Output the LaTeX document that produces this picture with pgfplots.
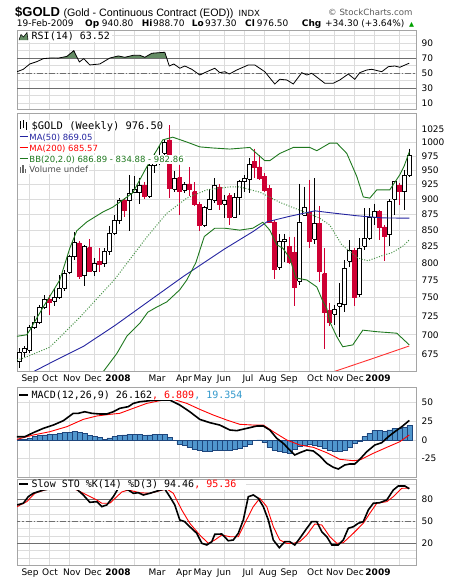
\documentclass[border=0pt]{standalone}
\usepackage{pgfplots}
\usepackage{pgfplotstable}
\pgfplotsset{compat=1.18}
\usepackage{fontspec}
\setmainfont{DejaVu Sans}
\setmonofont{DejaVu Sans Mono}
\newfontfamily\hdrfont{Liberation Sans}
\newcommand\fs[1]{\fontsize{#1}{#1}\selectfont}

\definecolor{gridc}{RGB}{220,220,220}
\definecolor{framec}{RGB}{165,165,165}
\definecolor{refc}{RGB}{110,110,110}
\definecolor{candlered}{RGB}{206,0,52}
\definecolor{bbc}{RGB}{30,120,30}
\definecolor{bbmidc}{RGB}{70,145,70}
\definecolor{ma50c}{RGB}{35,35,160}
\definecolor{ma200c}{RGB}{255,50,50}
\definecolor{histfill}{RGB}{80,150,205}
\definecolor{histedge}{RGB}{30,70,125}
\definecolor{macdblue}{RGB}{51,153,204}
\definecolor{rsifill}{RGB}{100,140,100}

% weekly candles, i = week index (0 = 24-Aug-2007, 78 = 20-Feb-2009)
\pgfplotstableread{
i O H L C
0 666 683 658 678
1 678 685 672 682
2 680 713 677 709
3 709 725 708 716
4 716 740 714 736
5 736 753 734 747
6 748 753 726 744
7 745 763 738 750
8 750 782 748 763
9 763 789 759 784
10 786 812 783 809
11 809 847 804 831
12 830 833 777 781
13 781 827 767 825
14 823 836 786 788
15 788 807 780 799
16 802 822 786 798
17 799 822 794 817
18 817 857 812 845
19 845 874 842 865
20 865 902 859 899
21 899 902 871 882
22 898 942 849 910
23 911 939 910 917
24 911 937 892 923
25 924 930 900 905
26 905 968 902 958
27 958 980 945 970
28 970 995 959 975
29 980 1005 975 1000
30 1005 1033 903 919
31 917 948 913 936
32 937 959 874 913
33 915 929 910 926
34 926 955 905 917
35 913 929 889 892
36 892 896 848 857
37 858 889 855 886
38 884 917 883 900
39 899 936 894 924
40 921 926 883 892
41 892 907 869 899
42 906 910 858 871
43 871 910 871 903
44 903 933 874 931
45 930 941 913 936
46 934 971 910 960
47 966 989 936 956
48 956 977 933 936
49 939 945 913 916
50 919 924 861 863
51 863 866 777 791
52 794 844 789 832
53 832 844 801 835
54 825 840 799 801
55 816 840 739 764
56 773 926 768 863
57 874 921 874 887
58 879 933 822 833
59 836 936 828 861
60 861 889 772 787
61 784 822 682 730
62 732 743 712 717
63 727 740 713 734
64 738 770 697 742
65 740 804 730 792
66 802 834 794 819
67 819 822 739 751
68 754 837 751 821
69 825 885 819 837
70 837 885 835 871
71 871 893 858 880
72 880 882 835 854
73 855 858 802 840
74 843 900 826 897
75 900 931 874 930
76 924 927 891 913
77 913 950 882 941
78 940.8 988.7 937.3 976.5
}\gold

\pgfplotstableread{
i v
2 651
6.1 664
12.8 685
19.1 712
26.5 748
33 781
41.1 821
46.8 848
49.5 863
53.5 871
59.1 881
62.1 878
67.5 873
72.7 869.5
78 869.05
}\mafifty

\pgfplotstableread{
i v
56 640
63.1 654
70.8 670
78 685.57
}\matwohundred

\pgfplotstableread{
i v
-0.46 698
1.5 700
2.1 706
4.7 736
8.1 775
10.1 822
11.5 849
13.5 863
16.7 879
18.7 887
22.7 911
25.5 956
27.5 986
28.7 1005
30.7 1010
33.5 1001
36.1 992
38.7 990
42.1 988
46.1 991
49.1 967
50.1 967
52.1 980
54.8 991
58.1 991
59.5 985
62.1 999
63.5 999
65.5 980
67.5 939
68.8 904
70.1 902
71.5 916
74.1 916
76.1 942
77 958
78 982.86
}\bbup

\pgfplotstableread{
i v
-0.46 668
0.7 670
6.1 684
12.1 723
19.1 776
25.5 839
29.5 877
33.5 902
37.5 916
42.1 921
44.1 921
48.1 912
52.1 895
56.1 882
60.1 869
62.1 858
64.5 827
67.7 807
69.7 803
72.7 811
74.5 815
76.7 825
78 834.88
}\bbmid

\pgfplotstableread{
i v
14 640
16.7 653
19.5 676
21.5 698
24.1 715
25.7 730
27.5 737
29.5 744
32.1 761
33.5 775
35.3 800
37 840
39.1 853
41.1 853
44.1 850
46.7 853
48.7 862.5
50.1 850
51.5 827
52.7 822
54.1 807
55.3 778
57.5 775
59.5 765
60.7 745
61.5 735
62.1 717
63.5 697.5
64.7 684.6
66.7 686.9
68.7 706
71.5 704
75.5 702
78 686.89
}\bblo

\pgfplotstableread{
i v
-0.46 52.1
0.8 55.3
2.1 62.4
3.5 65.5
4.8 69.5
6.5 70.5
7.8 70.2
9.5 72.5
10.9 80.1
12 65.1
12.9 69.5
14.1 61.1
16.1 62.4
18.1 70.3
19.8 73.1
21.1 71.3
22.8 74
24.1 74
25.1 71.3
26.5 76.7
29.1 78
30 59.7
30.9 62.4
32.1 56.7
33.1 59.7
34.5 55.3
36.1 47.7
37.5 52.1
39.1 56.7
40.1 50.8
41.1 52.1
42 49
43.5 54.4
45.8 61.1
47.1 61.1
49.1 52.1
51.1 35.7
52.1 42
53.5 41.1
54.8 35.7
56.5 50.8
57.5 47.7
58.5 50
61.1 36.7
62.8 36.7
64.1 41.1
65.8 49
67.1 42
68.1 50.8
69.5 54.4
70.5 55.3
72.5 52.1
73.8 58.8
75.1 59.7
76.1 58
78 63.52
}\rsi

\pgfplotstableread{
i v
-0.46 4.4
1.1 4.4
2.8 9.8
4.8 15.6
6.8 20
8.8 25.8
10.8 35.7
11.8 35.7
13.1 37.8
14.5 35.7
16.1 34.8
17.5 34.8
18.8 37.8
20.1 42.4
21.8 44.6
22.8 49
24.1 51.2
26.1 52.6
28 53.5
30.1 53.5
32.1 46.8
34.1 37.8
36.1 27.6
38.1 23.2
40.1 20
42.1 13.4
43.5 12.5
45.5 15.6
47.5 18.7
48.8 18.7
50.1 13.4
51.5 2.2
52.8 -4.5
54.1 -13.4
55.1 -20
56.1 -17
57.5 -13.4
58.8 -14.7
60.1 -21.4
61.5 -31.2
62.8 -36.5
63.8 -38.8
65.1 -33.4
66.1 -32.1
67.1 -32.1
68.1 -25.8
69.5 -15.6
71.1 -6.7
72.5 -3.6
73.8 4.4
75.1 11.1
76.5 17.8
78 26.162
}\macd

\pgfplotstableread{
i v
-0.46 0.9
2.8 6.7
6.1 11.1
9.5 17.8
12.8 27.6
15.5 32.1
18.1 34.3
20.1 35.7
22.8 42.4
25.5 49
28.1 52.6
30.8 54.4
33.5 49
36.1 41
38.8 33.4
41.5 26.7
44.1 21
46.8 20
48.8 20
50.8 11.1
53.5 0
56.1 -6.7
58.8 -9.8
61.5 -17
64.1 -25.8
66.8 -27.7
68.1 -26.7
70.8 -17.8
73.5 -9.8
76.1 -2.3
78 6.809
}\signal

\pgfplotstableread{
i v
0 0.5
1 1.3
2 2.2
3 4.5
4 5.8
5 6.7
6 7.6
7 7.6
8 8.5
9 9.8
10 10.7
11 11.6
12 10.3
13 8.9
14 6.2
15 4.5
16 3.1
17 1.3
18 2.7
19 4.5
20 6.2
21 6.7
22 7.6
23 7.6
24 7.1
25 5.8
26 6.7
27 7.6
28 8
29 7.6
30 3.1
31 -0.4
32 -5.3
33 -6.7
34 -9.8
35 -12.5
36 -14.3
37 -14.7
38 -14.7
39 -14.3
40 -13.4
41 -13.4
42 -13.4
43 -12.5
44 -11.6
45 -8.9
46 -6.2
47 -0.9
48 0.3
49 -3.6
50 -9.8
51 -13.4
52 -15.2
53 -16.5
54 -17.8
55 -12.5
56 -8.9
57 -6.7
58 -5.3
59 -6.7
60 -8.9
61 -11.6
62 -14.3
63 -14.7
64 -14.7
65 -14.3
66 -9.8
67 -4.5
68 -1.8
69 4.5
70 8.9
71 12.5
72 12.5
73 11.1
74 13.4
75 15.6
76 15.6
77 16.9
78 19.354
}\hist

\pgfplotstableread{
i v
-0.46 72.3
0.8 74.6
1.8 83.6
2.8 88.2
4.8 92.7
6.1 94.1
8 97
10 97.5
11.5 93.7
12.8 85.9
14.1 75.9
15.5 76.8
16.5 70
17.5 72.3
18.8 83.6
19.8 95
20.8 94.1
21.8 92.7
22.8 88.2
23.8 89
24.8 85.9
26.1 88.2
27.8 91.8
29.1 94.1
30.1 83.6
31.1 72.3
32.1 51.8
33.1 49.5
34.1 42.6
35.5 33.6
36.5 20
37.5 17.7
38.5 22.2
39.1 32.3
40.5 32.7
41.8 23.5
42.8 24.5
43.8 33.6
44.8 51.8
45.8 83.6
46.8 85.9
47.8 81.4
48.8 70
49.8 51.8
50.8 24.5
52 14
53.1 22.2
54.1 22.2
55.1 17.7
56.1 26.8
57.5 40.5
58.5 49.5
59.5 49.5
60.5 35.8
61.5 29
62.5 17.7
63.8 17.7
64.8 24.5
65.8 40.5
66.8 42.6
67.8 47.3
68.8 49.5
69.8 65.4
70.8 74.6
72.1 75.4
73.5 79.1
74.8 92.7
75.8 98.2
77.1 98.2
78 94.46
}\stok

\pgfplotstableread{
i v
-0.46 70
1.5 76.8
3.1 88.2
5.5 93.7
8 96
10 96
11.5 92.7
13.5 85.9
15.5 79.1
16.5 74.6
18.1 74.6
19.5 83.6
20.5 90
21.8 92.7
24.1 89
26.1 88.2
28.1 91.8
29.5 94.1
30.8 88.2
32.5 65.4
34.1 47.3
36.1 31.3
37.8 20
39.1 24.5
40.5 31.3
42.1 29
43.8 29
45.1 47.3
46.8 70
48.1 81.4
49.5 70
50.8 42.6
52.1 24.5
53.5 20
54.8 20
56.1 22.2
57.5 31.3
59.1 46.3
60.5 45
62.1 29
63.5 20
64.8 20.9
66.8 33.6
68.8 47.3
70.1 60.9
71.5 74.6
73.5 76.8
74.8 83.6
76.5 95
78 95.36
}\stod

\newcommand\drawcandle[1]{%
  \pgfplotstablegetelem{#1}{i}\of\gold\let\vi\pgfplotsretval
  \pgfplotstablegetelem{#1}{O}\of\gold\let\vo\pgfplotsretval
  \pgfplotstablegetelem{#1}{H}\of\gold\let\vh\pgfplotsretval
  \pgfplotstablegetelem{#1}{L}\of\gold\let\vl\pgfplotsretval
  \pgfplotstablegetelem{#1}{C}\of\gold\let\vc\pgfplotsretval
  \pgfmathsetmacro\xa{\vi-0.34}%
  \pgfmathsetmacro\xb{\vi+0.34}%
  \ifdim\vc pt<\vo pt
    \edef\tmp{%
      \noexpand\addplot[candlered,line width=0.9pt] coordinates {(\vi,\vh) (\vi,\vl)};%
      \noexpand\addplot[fill=candlered,draw=candlered,line width=0.5pt] coordinates {(\xa,\vo) (\xb,\vo) (\xb,\vc) (\xa,\vc) (\xa,\vo)};}%
  \else
    \edef\tmp{%
      \noexpand\addplot[black,line width=0.9pt] coordinates {(\vi,\vh) (\vi,\vl)};%
      \noexpand\addplot[fill=white,draw=black,line width=0.8pt] coordinates {(\xa,\vo) (\xb,\vo) (\xb,\vc) (\xa,\vc) (\xa,\vo)};}%
  \fi
  \tmp
}

\pgfplotsset{
  panel/.style={
    scale only axis, width=399pt, anchor=north west,
    xmin=-0.46, xmax=79.34,
    xtick={2,6,10,15,19,23,28,32,36,41,45,49,54,58,63,67,71,76},
    xticklabels={},
    xmajorgrids, ymajorgrids,
    grid style={gridc, line width=0.7pt},
    minor grid style={gridc, line width=0.7pt},
    axis line style={framec, line width=0.8pt},
    tick style={draw=none},
    yticklabel pos=right,
    yticklabel style={anchor=west, xshift=2pt},
    ticklabel style={font=\fs{9}},
  },
  ovl/.style={
    scale only axis, width=399pt, anchor=north west,
    xmin=-0.46, xmax=79.34, hide axis,
  },
  months/.style={
    extra x ticks={2.14,6.14,10.54,14.74,19.74,27.54,32.94,36.74,40.94,45.74,49.74,53.94,59.14,63.14,67.14,71.74},
    extra x tick labels={Sep,Oct,Nov,Dec,\textbf{2008},Mar,Apr,May,Jun,Jul,Aug,Sep,Oct,Nov,Dec,\textbf{2009}},
    extra x tick style={grid=none, tick style={draw=none}},
  },
  refline/.style={refc, line width=0.8pt},
  midline/.style={refc, line width=0.8pt, dash pattern=on 6pt off 2pt on 1.5pt off 2pt},
}

\begin{document}
\begin{tikzpicture}
\useasboundingbox (0,0) rectangle (460pt,-582pt);

% ---------- RSI ----------
\begin{axis}[panel, at={(17pt,-30pt)}, height=79.5pt,
  ymin=1.7, ymax=107.7,
  ytick={10,30,50,70,90}, yticklabels={10,30,50,70,90},
  minor ytick={20,40,60,80,100}, yminorgrids]
  \addplot[refline] coordinates {(-1,30) (81,30)};
  \addplot[midline] coordinates {(-1,50) (81,50)};
\end{axis}
% area above 70
\begin{axis}[ovl, at={(17pt,-30pt)}, height=28.275pt, ymin=70, ymax=107.7]
  \addplot[fill=rsifill, draw=none] table[x=i,y=v]{\rsi} \closedcycle;
\end{axis}
\begin{axis}[ovl, at={(17pt,-30pt)}, height=79.5pt, ymin=1.7, ymax=107.7]
  \addplot[refline] coordinates {(-1,70) (81,70)};
  \addplot[black, line width=0.8pt] table[x=i,y=v]{\rsi};
\end{axis}

% ---------- price ----------
\begin{axis}[panel, months, at={(17pt,-113pt)}, height=258pt,
  ymode=log, ymin=654.5, ymax=1056.5,
  ytick={675,700,725,750,775,800,825,850,875,900,925,950,975,1000,1025},
  yticklabels={675,700,725,750,775,800,825,850,875,900,925,950,975,1000,1025}]
  \pgfplotsinvokeforeach{0,...,78}{\drawcandle{#1}}
  \addplot[ma200c, line width=0.9pt] table[x=i,y=v]{\matwohundred};
  \addplot[ma50c, line width=0.9pt] table[x=i,y=v]{\mafifty};
  \addplot[bbc, line width=0.9pt] table[x=i,y=v]{\bbup};
  \addplot[bbc, line width=0.9pt] table[x=i,y=v]{\bblo};
  \addplot[bbmidc, line width=1pt, dash pattern=on 1pt off 1.6pt] table[x=i,y=v]{\bbmid};
\end{axis}

% ---------- MACD ----------
\begin{axis}[panel, at={(17pt,-387pt)}, height=90pt,
  ymin=-49.5, ymax=70.9,
  ytick={-25,0,25,50}, yticklabels={-25,0,25,50}]
  \addplot[ybar, bar width=1, fill=histfill, draw=histedge, line width=0.5pt] table[x=i,y=v]{\hist};
  \addplot[red, line width=0.9pt] table[x=i,y=v]{\signal};
  \addplot[black, line width=1.6pt] table[x=i,y=v]{\macd};
\end{axis}

% ---------- Slow STO ----------
\begin{axis}[panel, months, at={(17pt,-479pt)}, height=86pt,
  ymin=-9.6, ymax=107.7,
  ytick={20,50,80}, yticklabels={20,50,80},
  minor ytick={0,10,30,40,60,70,90,100}, yminorgrids]
  \addplot[refline] coordinates {(-1,80) (81,80)};
  \addplot[refline] coordinates {(-1,20) (81,20)};
  \addplot[midline] coordinates {(-1,50) (81,50)};
  \addplot[red, line width=0.9pt] table[x=i,y=v]{\stod};
  \addplot[black, line width=1.6pt] table[x=i,y=v]{\stok};
\end{axis}

% ---------- header ----------
\node[anchor=base west, inner sep=0pt, font=\hdrfont\bfseries\fs{13}] at (15pt,-16.5pt) {\$GOLD};
\node[anchor=base west, inner sep=0pt, font=\hdrfont\fs{10.7}] at (63.3pt,-16.5pt) {(Gold - Continuous Contract (EOD))};
\node[anchor=base west, inner sep=0pt, font=\fs{8.5}] at (238.5pt,-16.5pt) {INDX};
\node[anchor=base west, inner sep=0pt, font=\fs{8.6}, text=black!65] at (328pt,-15pt) {© StockCharts.com};
\begin{scope}[every node/.style={anchor=base west, inner sep=0pt, font=\fs{9}}]
  \node at (16.7pt,-26pt) {19-Feb-2009};
  \node at (85pt,-26pt) {\textbf{Op}};
  \node at (101.7pt,-26pt) {940.80};
  \node at (141.7pt,-26pt) {\textbf{Hi}};
  \node at (153pt,-26pt) {988.70};
  \node at (191.7pt,-26pt) {\textbf{Lo}};
  \node at (205pt,-26pt) {937.30};
  \node at (245pt,-26pt) {\textbf{Cl}};
  \node at (256.7pt,-26pt) {976.50};
  \node at (301.7pt,-26pt) {\textbf{Chg}};
  \node at (325pt,-26pt) {+34.30 (+3.64\%)};
  \node[font=\fs{6.5}, text={rgb,255:red,0;green,160;blue,0}] at (409pt,-26pt) {▲};
\end{scope}

% ---------- RSI legend ----------
\fill[white] (17.6pt,-30.6pt) rectangle (112pt,-41.5pt);
\fill[rsifill] (19pt,-40pt) -- (21pt,-34.5pt) -- (23.5pt,-37pt) -- (27pt,-32.5pt) -- (28pt,-40pt) -- cycle;
\draw[black, line width=0.5pt] (19pt,-40pt) -- (21pt,-34.5pt) -- (23.5pt,-37pt) -- (27pt,-32.5pt) -- (28pt,-40pt);
\node[anchor=base west, inner sep=0pt, font=\ttfamily\fs{10}] at (31.5pt,-39.3pt) {RSI(14) 63.52};

% ---------- price legend ----------
\fill[white] (17.6pt,-119.5pt) rectangle (168pt,-131pt);
\draw[black, line width=0.6pt] (20.5pt,-121pt) -- (20.5pt,-129pt) (23.5pt,-120pt) -- (23.5pt,-128pt) (26.5pt,-122pt) -- (26.5pt,-130pt);
\fill[black] (19.7pt,-123pt) rectangle (21.3pt,-127pt);
\fill[black] (22.7pt,-122pt) rectangle (24.3pt,-126pt);
\fill[black] (25.7pt,-124pt) rectangle (27.3pt,-128pt);
\node[anchor=base west, inner sep=0pt, font=\ttfamily\fs{10.4}] at (31.5pt,-129pt) {\$GOLD (Weekly) 976.50};
\begin{scope}[every node/.style={anchor=base west, inner sep=0.8pt, fill=white, font=\fs{8.5}}]
  \node[text=ma50c] at (28.5pt,-140pt) {MA(50) 869.05};
  \node[text=red] at (28.5pt,-151pt) {MA(200) 685.57};
  \node[text=bbc] at (28.5pt,-162pt) {BB(20,2.0) 686.89 - 834.88 - 982.86};
  \node[text=black!70] at (28.5pt,-172.7pt) {Volume undef};
\end{scope}
\fill[white] (17.6pt,-132pt) rectangle (28.5pt,-174pt);
\draw[ma50c, line width=1.6pt] (19.5pt,-136.5pt) -- (27.5pt,-136.5pt);
\draw[red, line width=1.6pt] (19.5pt,-147.5pt) -- (27.5pt,-147.5pt);
\draw[bbc, line width=1.6pt] (19.5pt,-158.5pt) -- (27.5pt,-158.5pt);
\fill[black!60] (19.5pt,-172.7pt) rectangle (21pt,-167pt);
\fill[black!60] (22pt,-172.7pt) rectangle (23.5pt,-165pt);
\fill[black!60] (24.5pt,-172.7pt) rectangle (26pt,-168.5pt);

% ---------- MACD legend ----------
\fill[white] (17.6pt,-388pt) rectangle (248pt,-400pt);
\draw[black, line width=2pt] (19pt,-394.5pt) -- (28pt,-394.5pt);
\node[anchor=base west, inner sep=0pt, font=\ttfamily\fs{10}] at (31.5pt,-398pt) {MACD(12,26,9) 26.162\textcolor{red}{, 6.809}\textcolor{macdblue}{, 19.354}};

% ---------- STO legend ----------
\fill[white] (17.6pt,-479.6pt) rectangle (246pt,-490pt);
\draw[black, line width=2pt] (19pt,-484pt) -- (28pt,-484pt);
\node[anchor=base west, inner sep=0pt, font=\ttfamily\fs{10}] at (31.5pt,-487.3pt) {Slow STO \%K(14) \%D(3) 94.46\textcolor{red}{, 95.36}};
\end{tikzpicture}
\end{document}
